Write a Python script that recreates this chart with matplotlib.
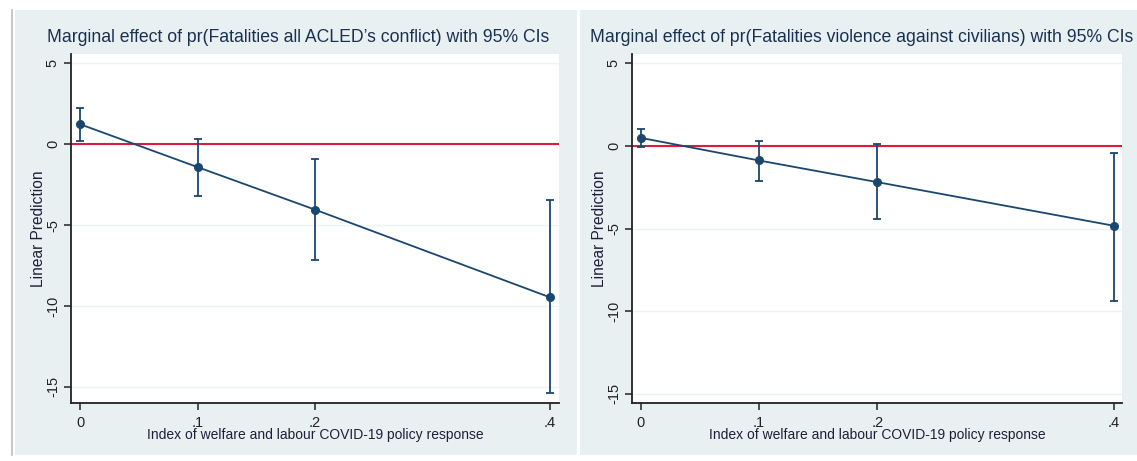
import matplotlib
matplotlib.use("Agg")
import matplotlib.pyplot as plt
from matplotlib.patches import Rectangle
from matplotlib.lines import Line2D

# ---- data ----
x_vals = [0.0, 0.1, 0.2, 0.4]
x_ticklabels = ["0", ".1", ".2", ".4"]
y_ticks = [5, 0, -5, -10, -15]
y_ticklabels = ["5", "0", "-5", "-10", "-15"]

left_title = "Marginal effect of pr(Fatalities all ACLED\u2019s conflict) with 95% CIs"
left_est = [1.23, -1.42, -4.05, -9.47]
left_lo = [0.20, -3.23, -7.19, -15.40]
left_hi = [2.26, 0.31, -0.93, -3.44]

right_title = "Marginal effect of pr(Fatalities violence against civilians) with 95% CIs"
right_est = [0.49, -0.88, -2.19, -4.83]
right_lo = [-0.04, -2.13, -4.43, -9.40]
right_hi = [1.02, 0.32, 0.10, -0.40]

xlabel = "Index of welfare and labour COVID-19 policy response"
ylabel = "Linear Prediction"

W, H = 1137, 461
plt.rcParams['font.family'] = ['Liberation Sans', 'DejaVu Sans']

fig = plt.figure(figsize=(W / 100, H / 100), dpi=100)
fig.patch.set_facecolor("white")

panel_bg = "#E8F0F2"
navy = "#1A476F"
red = "#D81E3C"
dark = "#222222"

def px(x0, y0, w, h):
    return [x0 / W, 1 - (y0 + h) / H, w / W, h / H]

# panel backgrounds
fig.patches.append(Rectangle((15 / W, 1 - 455 / H), (577 - 15) / W, (455 - 10) / H,
                             transform=fig.transFigure, facecolor=panel_bg, edgecolor="none", zorder=-5))
fig.patches.append(Rectangle((580 / W, 1 - 455 / H), (1137 - 580) / W, (455 - 10) / H,
                             transform=fig.transFigure, facecolor=panel_bg, edgecolor="none", zorder=-5))
fig.lines.append(Line2D([12 / W, 12 / W], [1 - 455 / H, 1 - 10 / H], transform=fig.transFigure,
                        color="#B8BEC2", lw=1.2, zorder=-4))

panels = [
    dict(rect=px(71, 54, 488, 349.3), title=left_title, est=left_est, lo=left_lo, hi=left_hi,
         xlim=(-0.0077, 0.4077), ylim=(-16.02, 5.57), tx=298),
    dict(rect=px(632, 54, 490, 349), title=right_title, est=right_est, lo=right_lo, hi=right_hi,
         xlim=(-0.0073, 0.4068), ylim=(-15.55, 5.56), tx=862),
]

for p in panels:
    ax = fig.add_axes(p["rect"])
    ax.set_facecolor("white")
    ax.set_xlim(*p["xlim"])
    ax.set_ylim(*p["ylim"])
    for yt in y_ticks:
        ax.axhline(yt, color="#EEF2F3", lw=1.0, zorder=1)
    ax.axhline(0, color=red, lw=1.5, zorder=2)
    yerr = [[e - l for e, l in zip(p["est"], p["lo"])], [h - e for e, h in zip(p["est"], p["hi"])]]
    ax.errorbar(x_vals, p["est"], yerr=yerr, fmt="none", ecolor=navy, elinewidth=1.3,
                capsize=3, capthick=1.3, zorder=3)
    ax.plot(x_vals, p["est"], color=navy, lw=1.3, marker="o", markersize=5.5, zorder=4)
    ax.set_xticks(x_vals)
    ax.set_xticklabels(x_ticklabels, fontsize=10.5, color=dark)
    ax.set_yticks(y_ticks)
    ax.set_yticklabels(y_ticklabels, fontsize=10.5, color=dark, rotation=90, va="center")
    ax.tick_params(axis="both", direction="out", length=5, width=1.1, color=dark)
    ax.tick_params(axis="x", pad=4)
    ax.tick_params(axis="y", pad=3)
    for s in ["top", "right"]:
        ax.spines[s].set_visible(False)
    for s in ["left", "bottom"]:
        ax.spines[s].set_color(dark)
        ax.spines[s].set_linewidth(1.3)
    ax.set_xlabel(xlabel, fontsize=10, color="#1F1F3A", labelpad=-1)
    ax.set_ylabel(ylabel, fontsize=11.2, color="#1F1F3A", labelpad=0)
    fig.text(p["tx"] / W, 1 - 38 / H, p["title"], ha="center", va="center",
             fontsize=12.7, color="#1A3050")

fig.savefig("out.png", dpi=100, facecolor=fig.get_facecolor())
